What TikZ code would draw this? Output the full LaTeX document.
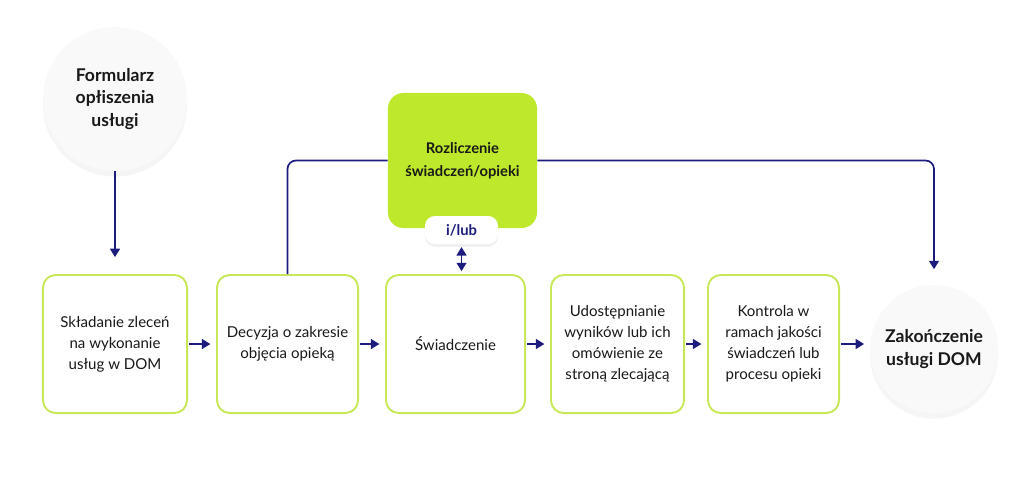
\documentclass[tikz,border=0pt]{standalone}
\usepackage{fontspec}
\setmainfont{Lato}
\usetikzlibrary{arrows.meta,shadows}

\definecolor{navy}{RGB}{28,28,126}
\definecolor{lime}{RGB}{190,232,44}
\definecolor{limeline}{RGB}{200,232,90}
\definecolor{circfill}{RGB}{249,249,249}

\tikzset{
  stepbox/.style={draw=limeline, line width=1.4pt, rounded corners=9pt, fill=white,
    minimum height=3.45cm, align=center, font=\fontsize{10.7}{15}\selectfont, text=black!90},
  endcirc/.style={circle, fill=circfill, align=center, text=black!90,
    font=\bfseries\fontsize{12.5}{16}\selectfont,
    drop shadow={opacity=0.08, shadow xshift=0pt, shadow yshift=-4pt}},
  flow/.style={draw=navy, line width=1.2pt, -{Triangle[length=6pt,width=7pt]}}
}

\begin{document}
\begin{tikzpicture}[x=0.025cm, y=-0.025cm]
\useasboundingbox (0,0) rectangle (1024,494);

% start and end
\node[endcirc, minimum size=3.6cm] (form) at (115,99) {Formularz\\opłiszenia\\usługi};
\node[endcirc, minimum size=3.2cm] (koniec) at (934,349) {Zakończenie\\usługi DOM};

% steps
\node[stepbox, minimum width=3.6cm] (zlecenia) at (115,344) {Składanie zleceń\\na wykonanie\\usług w DOM};
\node[stepbox, minimum width=3.525cm] (decyzja) at (287.5,344) {Decyzja o zakresie\\objęcia opieką};
\node[stepbox, minimum width=3.475cm] (swiad) at (455.5,344) {Świadczenie};
\node[stepbox, minimum width=3.325cm] (wyniki) at (617.5,344) {Udostępnianie\\wyników lub ich\\omówienie ze\\stroną zlecającą};
\node[stepbox, minimum width=3.275cm] (kontrola) at (773.5,344) {Kontrola w\\ramach jakości\\świadczeń lub\\procesu opieki};

% settlement
\node[fill=lime, rounded corners=11pt, minimum width=3.725cm, minimum height=3.375cm,
  align=center, font=\bfseries\fontsize{10.5}{16}\selectfont, text=black!90] (rozl) at (462.5,160.5)
  {Rozliczenie\\świadczeń/opieki};
\node[fill=white, rounded corners=7pt, minimum width=1.825cm, minimum height=0.7cm,
  font=\bfseries\fontsize{10.5}{12}\selectfont, text=navy,
  drop shadow={opacity=0.12, shadow xshift=0pt, shadow yshift=-2pt}] (ilub) at (461.5,230) {i/lub};

% connectors
\draw[flow, shorten >=12pt] (form.south) -- (zlecenia.north);
\draw[flow, shorten <=1pt, shorten >=4pt] (zlecenia) -- (decyzja);
\draw[flow, shorten <=1pt, shorten >=4pt] (decyzja) -- (swiad);
\draw[flow, shorten <=1pt, shorten >=4pt] (swiad) -- (wyniki);
\draw[flow, shorten <=1pt, shorten >=4pt] (wyniki) -- (kontrola);
\draw[flow, shorten <=1pt, shorten >=4pt] (kontrola.east) -- (kontrola.east -| koniec.west);
\draw[navy, line width=1.2pt, rounded corners=6pt] (decyzja.north) |- (rozl.west);
\draw[flow, rounded corners=6pt, shorten >=11pt] (rozl.east) -| (koniec.north);
\draw[flow, {Triangle[length=6pt,width=7pt]}-{Triangle[length=6pt,width=7pt]},
  shorten <=2pt, shorten >=2pt] (ilub.south) -- (ilub.south |- swiad.north);
\end{tikzpicture}
\end{document}
